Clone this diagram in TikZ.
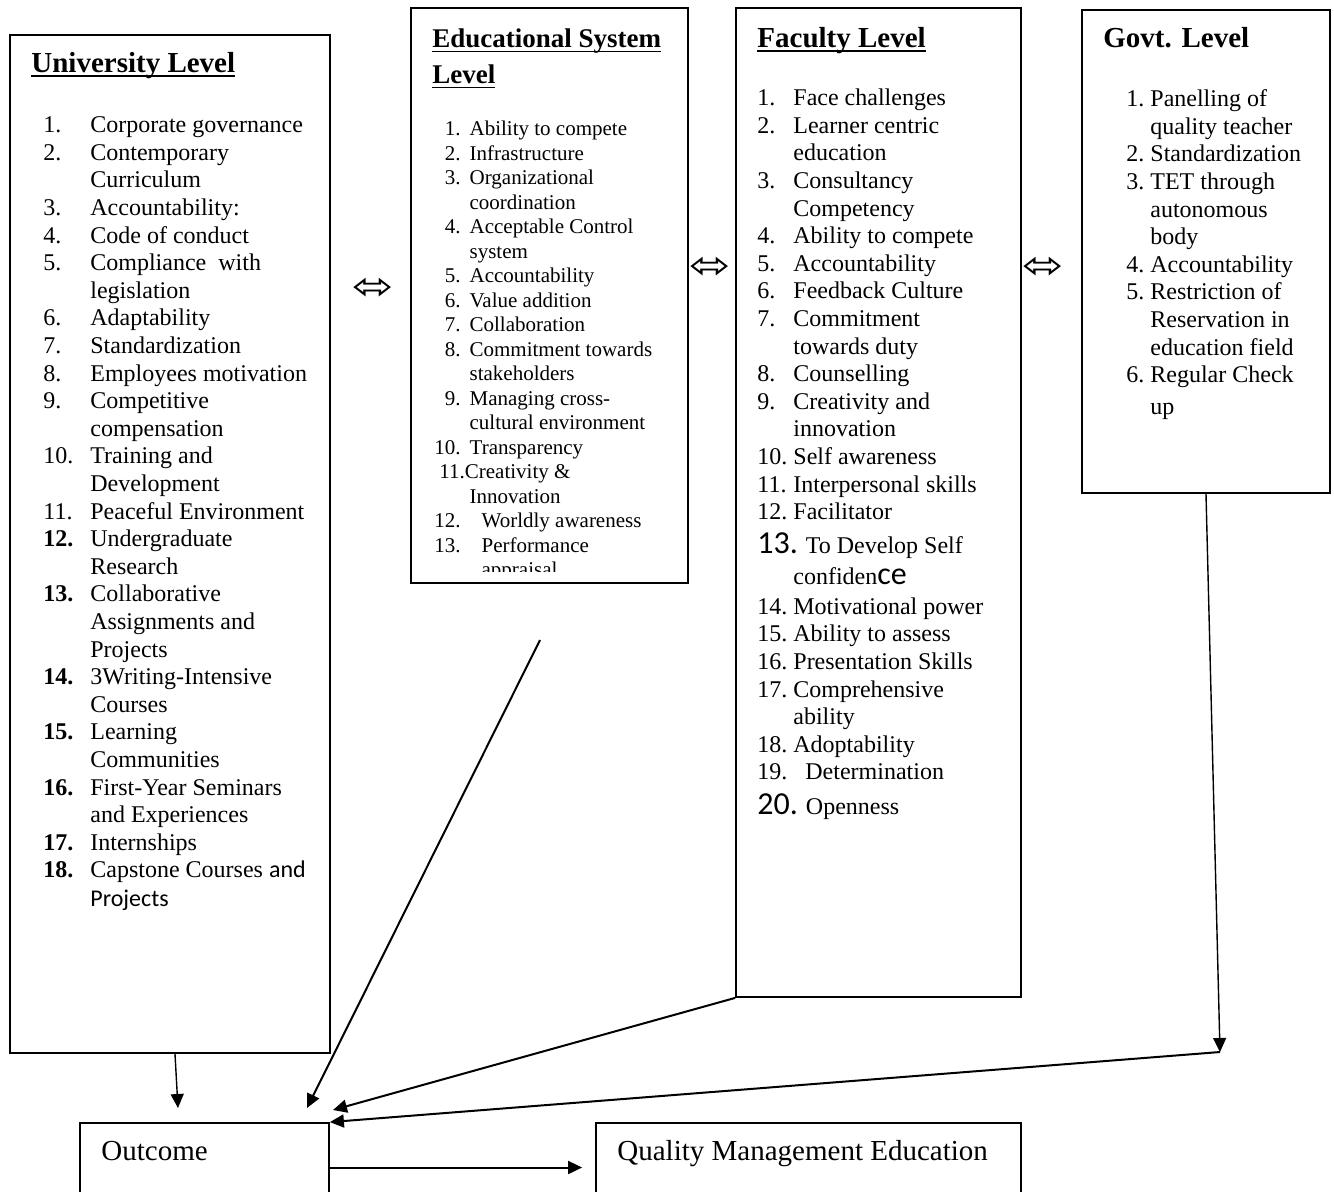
\documentclass[tikz,border=0pt]{standalone}
\usepackage{fontspec}
\setmainfont{Liberation Serif}
\setsansfont{Carlito}
\newfontfamily\symfont{DejaVu Sans}
\usepackage{tikz}
\usetikzlibrary{arrows.meta,positioning,fit}

\newcommand{\ulhead}[1]{\setbox0=\hbox{#1}\rlap{\rule[-2.6pt]{\wd0}{0.9pt}}\box0}
\newcommand{\bigsf}[1]{{\fontsize{16}{16}\sffamily #1}}
\newcommand{\twoway}{\scalebox{1.3}[1]{⬄}}

\begin{document}
\begin{tikzpicture}[
x=0.5pt, y=-0.5pt,
panel/.style={draw, line width=0.9pt, inner sep=0pt},
head/.style={anchor=base west, inner sep=0pt, font=\fontsize{14.5}{17}\selectfont\bfseries},
items/.style={anchor=north west, inner sep=0pt, font=\fontsize{12}{13.8}\selectfont},
dbl/.style={inner sep=0pt, font=\fontsize{19}{20}\symfont},
boxtext/.style={anchor=base west, inner sep=0pt, font=\fontsize{14.5}{17}\selectfont},
arr/.style={-{Triangle[length=7pt,width=6.5pt]}, line width=1pt},
thinarr/.style={arr, line width=0.7pt}
]
\useasboundingbox (0,0) rectangle (1334,1191);

% level boxes
\node[panel, fit={(10,35)(330,1053)}] (uni) {};
\node[panel, fit={(411,8)(688,583)}] (edu) {};
\node[panel, fit={(736,8)(1021,997)}] (fac) {};
\node[panel, fit={(1082,10)(1330,493)}] (gov) {};
\node[panel, fit={(80,1123)(329,1212)}] (out) {};
\node[panel, fit={(596,1123)(1021,1212)}] (qme) {};

% headings
\node[head] (unihead) at (31,72) {\ulhead{University Level}};
\node[head, anchor=north west, font=\fontsize{13.5}{18}\selectfont\bfseries, align=left] (eduhead) at (432,28) {\ulhead{Educational System}\\\ulhead{Level}};
\node[head] (fachead) at (757,47) {\ulhead{Faculty Level}};
\node[head] (govhead) at (1103,47) {Govt. Level};

% lists
\node[items] (unilist) at (43,113) {\begin{tabular}{@{}p{23.5pt}@{}l@{}}
1. & Corporate governance\\
2. & Contemporary\\
 & Curriculum\\
3. & Accountability:\\
4. & Code of conduct\\
5. & Compliance~ with\\
 & legislation\\
6. & Adaptability\\
7. & Standardization\\
8. & Employees motivation\\
9. & Competitive\\
 & compensation\\
10. & Training and\\
 & Development\\
11. & Peaceful Environment\\
\textbf{12.} & Undergraduate\\
 & Research\\
\textbf{13.} & Collaborative\\
 & Assignments and\\
 & Projects\\
\textbf{14.} & 3Writing-Intensive\\
 & Courses\\
\textbf{15.} & Learning\\
 & Communities\\
\textbf{16.} & First-Year Seminars\\
 & and Experiences\\
\textbf{17.} & Internships\\
\textbf{18.} & Capstone Courses \textsf{and}\\[0.7pt]
 & \textsf{Projects}
\end{tabular}};

\begin{scope}
\clip (412,9) rectangle (687,571);
\node[items, font=\fontsize{10.5}{12.25}\selectfont] (edulist) at (434,118) {\begin{tabular}{@{}r@{\hspace{4.5pt}}l@{}}
1. & Ability to compete\\
2. & Infrastructure\\
3. & Organizational\\
 & coordination\\
4. & Acceptable Control\\
 & system\\
5. & Accountability\\
6. & Value addition\\
7. & Collaboration\\
8. & Commitment towards\\
 & stakeholders\\
9. & Managing cross-\\
 & cultural environment\\
10. & Transparency\\
\multicolumn{2}{@{}l@{}}{\hspace{2.5pt}11.Creativity \&}\\
 & Innovation\\
12. & \hspace{6pt}Worldly awareness\\
13. & \hspace{6pt}Performance\\
 & \hspace{6pt}appraisal
\end{tabular}};
\end{scope}

\node[items] (faclist) at (757,86) {\begin{tabular}{@{}p{18pt}@{}l@{}}
1. & Face challenges\\
2. & Learner centric\\
 & education\\
3. & Consultancy\\
 & Competency\\
4. & Ability to compete\\
5. & Accountability\\
6. & Feedback Culture\\
7. & Commitment\\
 & towards duty\\
8. & Counselling\\
9. & Creativity and\\
 & innovation\\
10. & Self awareness\\
11. & Interpersonal skills\\
12. & Facilitator\\[2.5pt]
\multicolumn{2}{@{}l@{}}{\bigsf{13.}\hspace{4pt}To Develop Self}\\[1.5pt]
 & confiden\bigsf{ce}\\[1.2pt]
14. & Motivational power\\
15. & Ability to assess\\
16. & Presentation Skills\\
17. & Comprehensive\\
 & ability\\
18. & Adoptability\\
19. & \hspace{6pt}Determination\\[2.5pt]
\multicolumn{2}{@{}l@{}}{\bigsf{20.}\hspace{4pt}Openness}
\end{tabular}};

\node[items] (govlist) at (1126,87) {\begin{tabular}{@{}l@{\hspace{3pt}}l@{}}
1. & Panelling of\\
 & quality teacher\\
2. & Standardization\\
3. & TET through\\
 & autonomous\\
 & body\\
4. & Accountability\\
5. & Restriction of\\
 & Reservation in\\
 & education field\\
6. & Regular Check\\[2.3pt]
 & up
\end{tabular}};

% double arrows between levels
\node[dbl] (ue) at (373,289) {\twoway};
\node[dbl] (ef) at (710,268) {\twoway};
\node[dbl] (fg) at (1043,268) {\twoway};

% bottom boxes
\node[boxtext] (outtxt) at (101,1160) {Outcome};
\node[boxtext] (qmetxt) at (617,1160) {Quality Management Education};

% connectors
\coordinate (uniend) at (178,1108);
\coordinate (edustart) at (540,640);
\coordinate (eduend) at (307,1108);
\coordinate (facend) at (333,1110);
\coordinate (govturn) at (1220,1052);
\draw[thinarr] ([xshift=2.5pt]uni.south) -- (uniend);
\draw[arr] (edustart) -- (eduend);
\draw[arr] (fac.south west) -- (facend);
\draw[thinarr] (gov.south) -- (govturn);
\draw[arr] (govturn) -- (out.north east);
\draw[arr, shorten >=6.5pt] (out.east) -- (qme.west);
\end{tikzpicture}
\end{document}
